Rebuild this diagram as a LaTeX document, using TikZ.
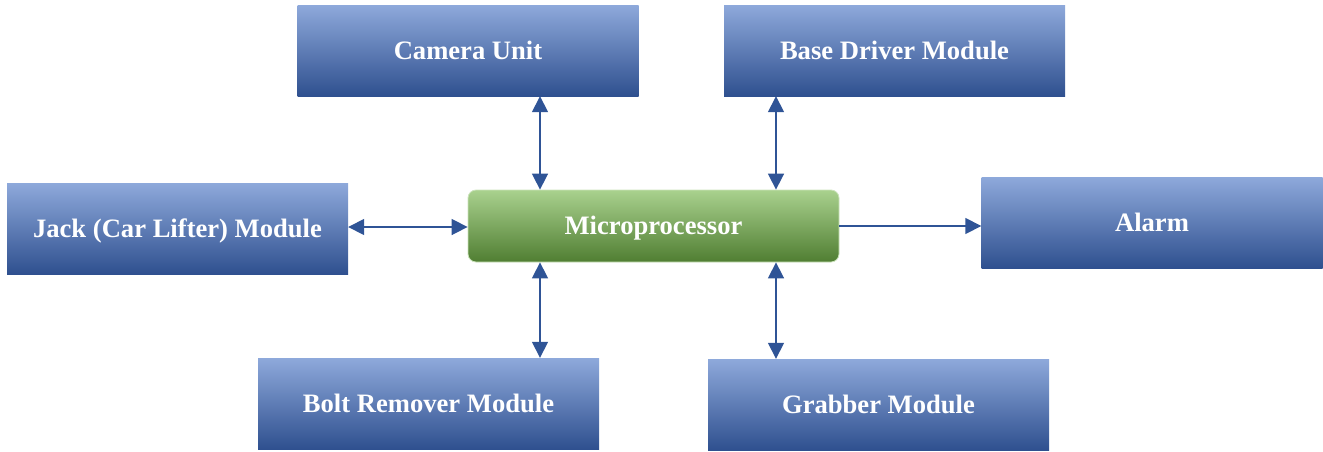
\documentclass[tikz,border=0pt]{standalone}
\usepackage{fontspec}
\setmainfont{Liberation Serif}
\usetikzlibrary{arrows.meta}
\definecolor{bluetop}{RGB}{142,169,219}
\definecolor{bluemid}{RGB}{68,114,196}
\definecolor{bluebot}{RGB}{47,80,143}
\definecolor{greentop}{RGB}{169,209,142}
\definecolor{greenmid}{RGB}{112,173,71}
\definecolor{greenbot}{RGB}{80,126,50}
\definecolor{arrowblue}{RGB}{47,84,150}
\tikzset{
  label text/.style={text=white, font=\bfseries\fontsize{26.6}{29}\selectfont,
    text height=17.8pt, text depth=0pt},
  module/.style={shade, top color=bluetop, middle color=bluemid, bottom color=bluebot,
    minimum width=341pt, minimum height=91pt, inner sep=0pt, label text},
  cpu/.style={shade, top color=greentop, middle color=greenmid, bottom color=greenbot,
    draw=greentop!60!white, line width=0.8pt, rounded corners=8pt,
    minimum width=371pt, minimum height=72pt, inner sep=0pt, label text},
  link/.style={draw=arrowblue, line width=1.6pt, -{Triangle[length=16pt,width=16pt]}},
  dlink/.style={link, {Triangle[length=16pt,width=16pt]}-{Triangle[length=16pt,width=16pt]}}
}
\begin{document}
\begin{tikzpicture}[x=1pt,y=-1pt]
  \useasboundingbox (0,0) rectangle (1323,451);
  \node[module] (cam)   at (468,50.5)    {Camera Unit};
  \node[module] (base)  at (894.5,50.5)  {Base Driver Module};
  \node[module] (jack)  at (177.5,228.5) {Jack (Car Lifter) Module};
  \node[cpu]    (mp)    at (653.5,226)   {Microprocessor};
  \node[module] (alarm) at (1152,222.5)  {Alarm};
  \node[module] (bolt)  at (428.5,403.5) {Bolt Remover Module};
  \node[module] (grab)  at (878.5,404.5) {Grabber Module};
  % columns and rows along which the links run
  \coordinate (colL) at (540,0);
  \coordinate (colR) at (776,0);
  \coordinate (rowJ) at (0,227);
  \coordinate (rowA) at (0,226);
  \draw[dlink] (cam.south -| colL) -- (mp.north -| colL);
  \draw[dlink] (base.south -| colR) -- (mp.north -| colR);
  \draw[dlink] (bolt.north -| colL) -- (mp.south -| colL);
  \draw[dlink] (grab.north -| colR) -- (mp.south -| colR);
  \draw[dlink] (jack.east |- rowJ) -- (mp.west |- rowJ);
  \draw[link] (mp.east |- rowA) -- (alarm.west |- rowA);
\end{tikzpicture}
\end{document}
